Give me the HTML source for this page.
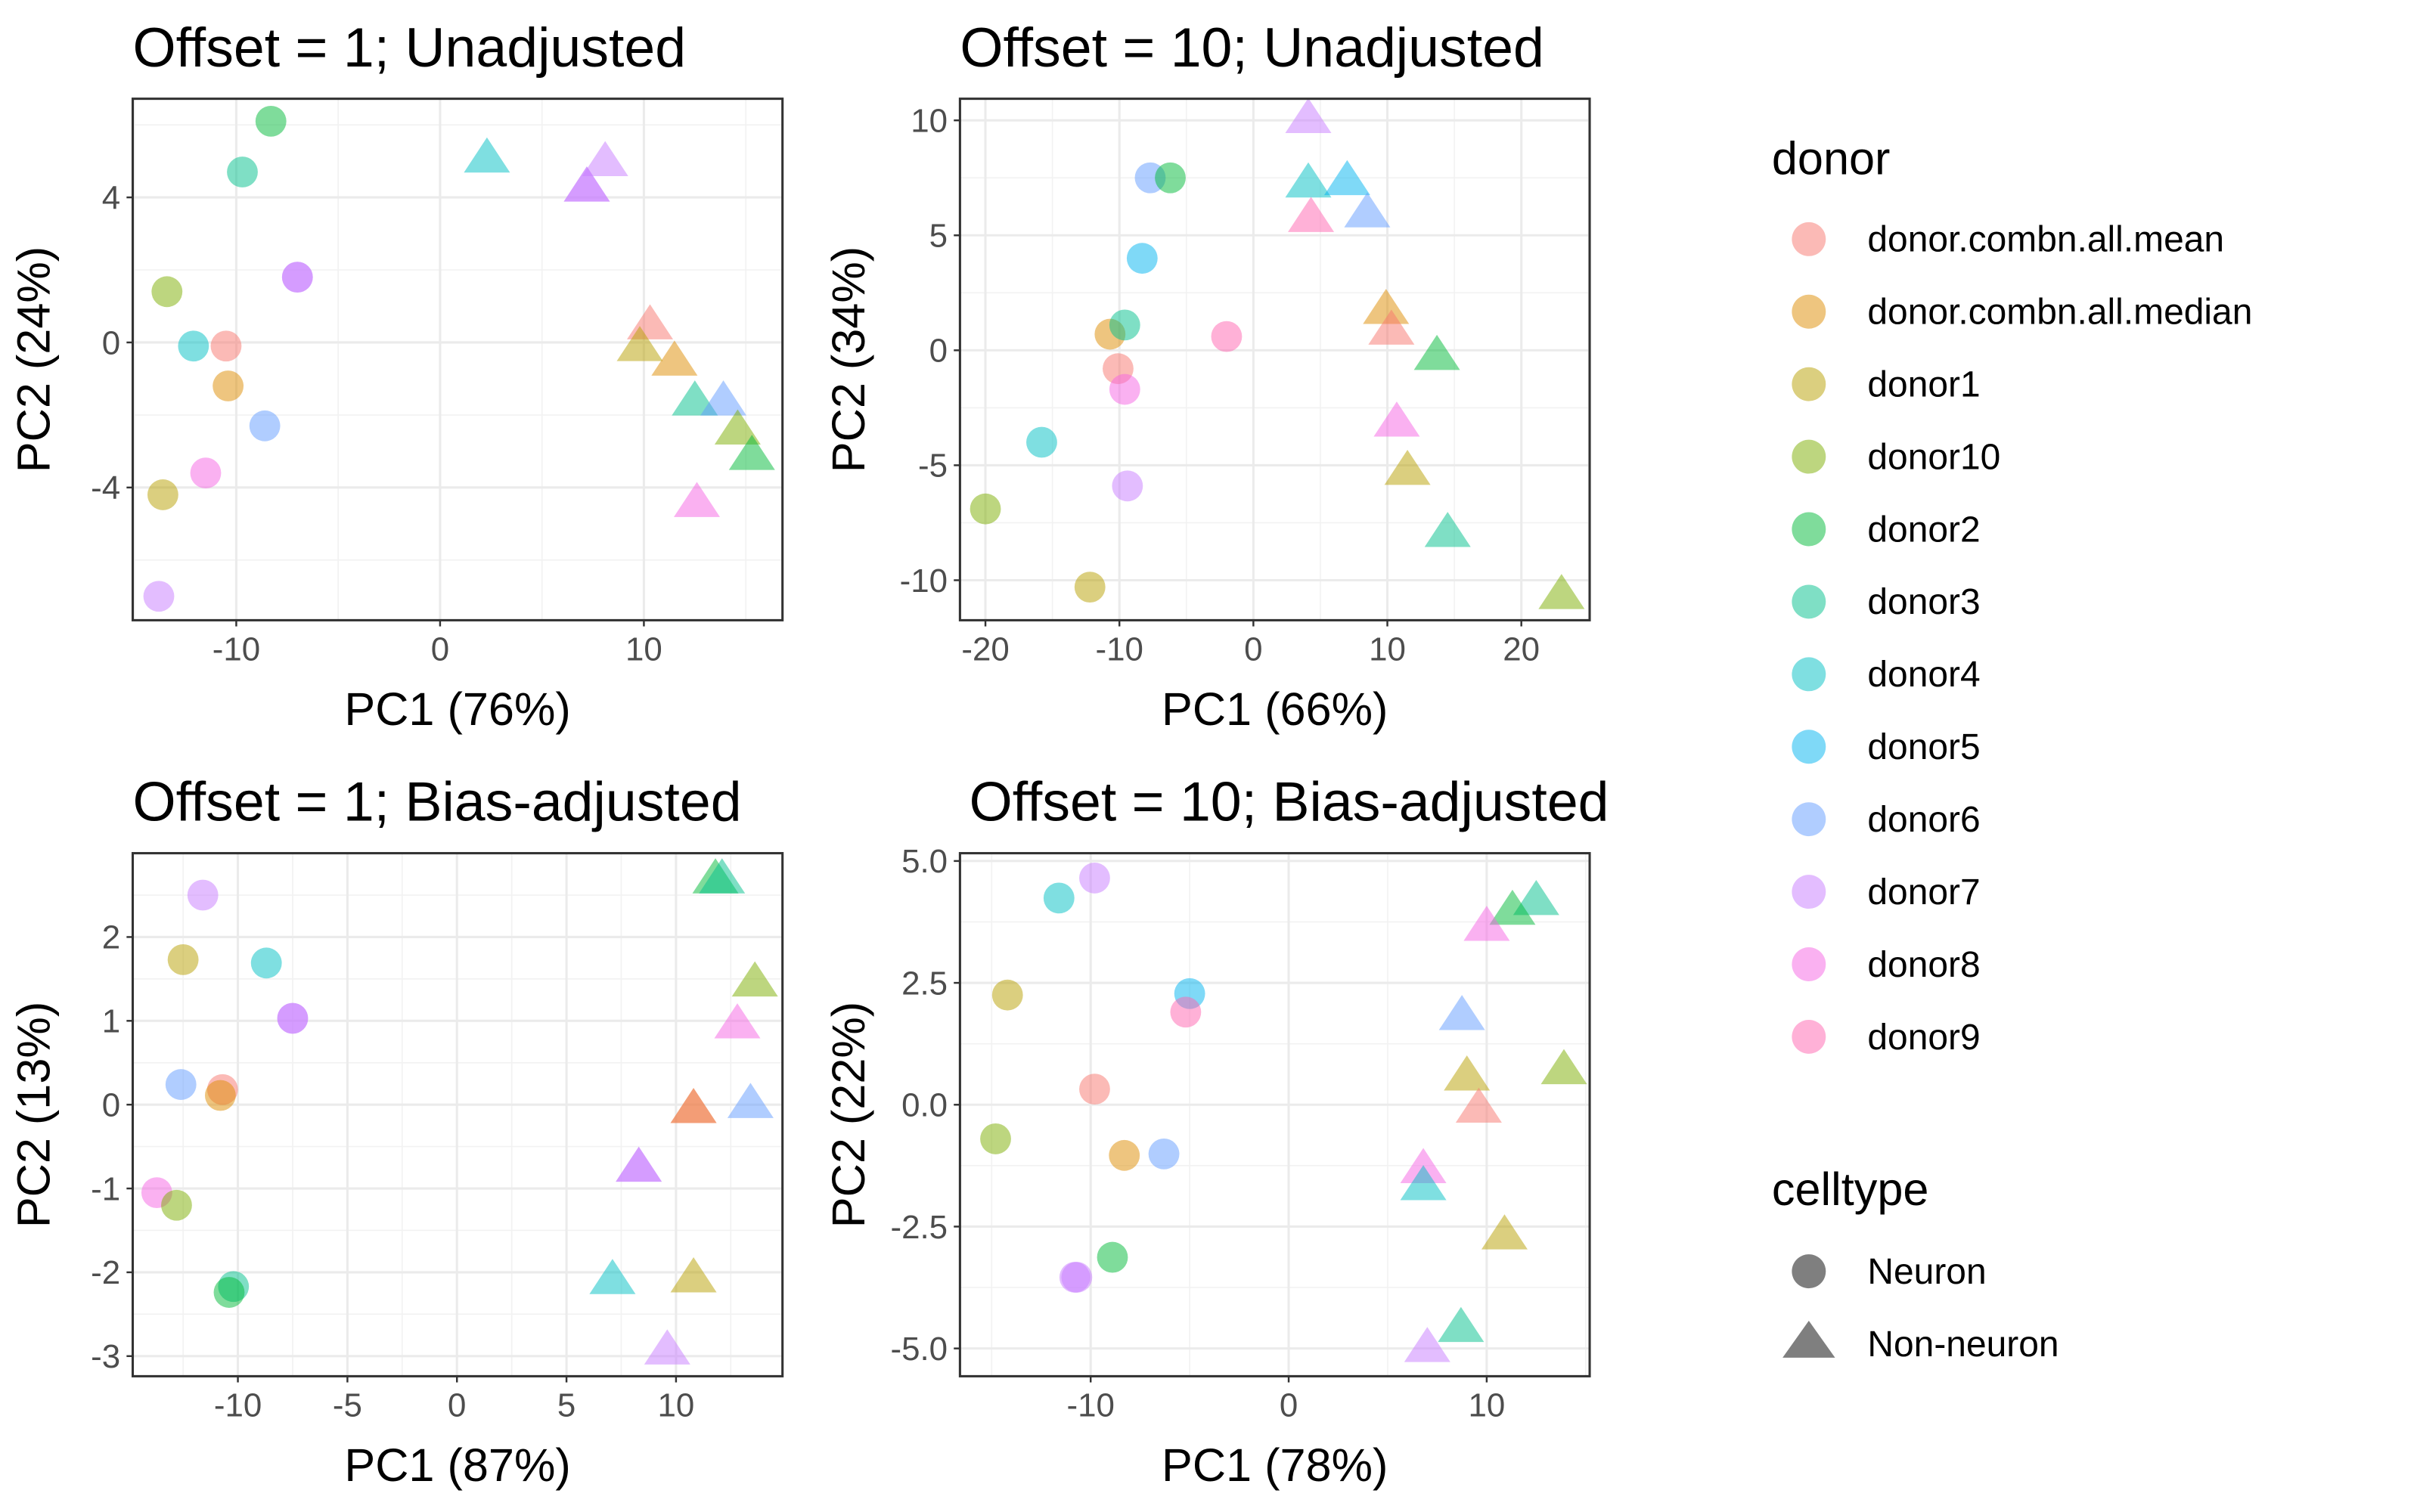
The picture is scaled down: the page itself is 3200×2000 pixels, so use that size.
<!DOCTYPE html>
<html><head><meta charset="utf-8"><style>
html,body{margin:0;padding:0;background:#fff;}
svg{display:block;font-family:"Liberation Sans",Arial,sans-serif;}
</style></head><body>
<svg id="chart" width="3200" height="2000" viewBox="0 0 1568 980" preserveAspectRatio="none" xmlns="http://www.w3.org/2000/svg"></svg>
<script>
const donors = ["donor.combn.all.mean","donor.combn.all.median","donor1","donor10","donor2","donor3","donor4","donor5","donor6","donor7","donor8","donor9"];
const colors = ["#F8766D","#DE8C00","#B79F00","#7CAE00","#00BA38","#00C08B","#00BFC4","#00B4F0","#619CFF","#C77CFF","#F564E3","#FF64B0"];
const panelTitles = ["Offset = 1; Unadjusted","Offset = 10; Unadjusted","Offset = 1; Bias-adjusted","Offset = 10; Bias-adjusted"];
const xLabels = ["PC1 (76%)","PC1 (66%)","PC1 (87%)","PC1 (78%)"];
const yLabels = ["PC2 (24%)","PC2 (34%)","PC2 (13%)","PC2 (22%)"];
const xTicks = [[-10,0,10],[-20,-10,0,10,20],[-10,-5,0,5,10],[-10,0,10]];
const yTicks = [[-4,0,4],[-10,-5,0,5,10],[-3,-2,-1,0,1,2],[-5,-2.5,0,2.5,5]];
const yTickText = [["-4","0","4"],["-10","-5","0","5","10"],["-3","-2","-1","0","1","2"],["-5.0","-2.5","0.0","2.5","5.0"]];
const xDomains = [[-15.08,16.8],[-21.9,25.1],[-14.8,14.86],[-16.6,15.2]];
const yDomains = [[-7.66,6.72],[-11.74,10.94],[-3.24,3.0],[-5.57,5.16]];
// points: [donorIndex, celltype(0 neuron,1 non-neuron), pc1, pc2]
const p1 = [[4,0,-8.3,6.1],[5,0,-9.7,4.7],[3,0,-13.4,1.4],[9,0,-7.0,1.8],[9,0,-7.0,1.8],[6,0,-12.1,-0.1],[0,0,-10.5,-0.1],[1,0,-10.4,-1.2],[8,0,-8.6,-2.3],[10,0,-11.5,-3.6],[2,0,-13.6,-4.2],[9,0,-13.8,-7.0],
 [6,1,2.3,5.1],[9,1,8.1,5.0],[9,1,7.2,4.3],[9,1,7.2,4.3],[0,1,10.3,0.5],[2,1,9.8,-0.1],[1,1,11.5,-0.5],[5,1,12.5,-1.6],[8,1,13.9,-1.6],[3,1,14.6,-2.4],[4,1,15.3,-3.1],[10,1,12.6,-4.4]];
const p2 = [[8,0,-7.7,7.5],[4,0,-6.2,7.5],[7,0,-8.3,4.0],[1,0,-10.7,0.7],[5,0,-9.6,1.1],[0,0,-10.1,-0.8],[10,0,-9.6,-1.7],[11,0,-2.0,0.6],[6,0,-15.8,-4.0],[9,0,-9.4,-5.9],[3,0,-20.0,-6.9],[2,0,-12.2,-10.3],
 [9,1,4.1,10.1],[6,1,4.1,7.3],[7,1,7.0,7.4],[8,1,8.5,6.0],[11,1,4.3,5.8],[1,1,9.9,1.8],[0,1,10.3,0.9],[4,1,13.7,-0.2],[10,1,10.7,-3.1],[2,1,11.5,-5.2],[5,1,14.5,-7.9],[3,1,23.0,-10.6]];
const p3 = [[9,0,-11.6,2.5],[2,0,-12.5,1.73],[6,0,-8.7,1.69],[9,0,-7.5,1.03],[9,0,-7.5,1.03],[8,0,-12.6,0.24],[0,0,-10.7,0.18],[1,0,-10.8,0.11],[10,0,-13.7,-1.05],[3,0,-12.8,-1.2],[5,0,-10.2,-2.17],[4,0,-10.4,-2.24],
 [4,1,11.8,2.7],[5,1,12.1,2.7],[3,1,13.6,1.47],[10,1,12.8,0.97],[8,1,13.4,0.02],[1,1,10.8,-0.04],[0,1,10.8,-0.04],[9,1,8.3,-0.74],[9,1,8.3,-0.74],[6,1,7.1,-2.08],[2,1,10.8,-2.06],[9,1,9.6,-2.92]];
const p4 = [[9,0,-9.8,4.65],[6,0,-11.6,4.24],[2,0,-14.2,2.25],[7,0,-5.0,2.28],[11,0,-5.2,1.9],[0,0,-9.8,0.32],[3,0,-14.8,-0.7],[1,0,-8.3,-1.04],[8,0,-6.3,-1.01],[4,0,-8.9,-3.13],[9,0,-10.8,-3.54],[9,0,-10.7,-3.54],
 [5,1,12.5,4.2],[4,1,11.3,4.0],[10,1,10.0,3.67],[8,1,8.75,1.84],[3,1,13.9,0.73],[2,1,9.0,0.6],[0,1,9.6,-0.06],[10,1,6.8,-1.3],[6,1,6.8,-1.65],[2,1,10.9,-2.66],[5,1,8.7,-4.56],[9,1,7.0,-4.97]];
const pointSets = [p1,p2,p3,p4];
const boxes = [[86,64,507,402],[622,64,1030,402],[86,553,507,892],[622,553,1030,892]];

const NS="http://www.w3.org/2000/svg";
const svg=document.getElementById('chart');
function mk(tag,attrs,parent){const e=document.createElementNS(NS,tag);for(const k in attrs)e.setAttribute(k,attrs[k]);(parent||svg).appendChild(e);return e;}

for(let p=0;p<4;p++){
  const [x0,y0,x1,y1]=boxes[p];
  const g=mk('g',{});
  
  
  const xd=xDomains[p], yd=yDomains[p];
  const sx=v=>x0+(v-xd[0])/(xd[1]-xd[0])*(x1-x0);
  const sy=v=>y1-(v-yd[0])/(yd[1]-yd[0])*(y1-y0);
  const xt=xTicks[p], yt=yTicks[p];
  const xs=xt[1]-xt[0], ys=yt[1]-yt[0];
  for(let v=xt[0]-xs/2; v<=xd[1]; v+=xs){ if(v<xd[0])continue; const l=mk('line',{x1:sx(v),x2:sx(v),y1:y0,y2:y1,stroke:'#f2f2f2','stroke-width':0.8},g);  }
  for(let v=yt[0]-ys/2; v<=yd[1]; v+=ys){ if(v<yd[0])continue; const l=mk('line',{x1:x0,x2:x1,y1:sy(v),y2:sy(v),stroke:'#f2f2f2','stroke-width':0.8},g);  }
  xt.forEach(v=>{const l=mk('line',{x1:sx(v),x2:sx(v),y1:y0,y2:y1,stroke:'#ebebeb','stroke-width':1.5},g);  
    const tk=mk('line',{x1:sx(v),x2:sx(v),y1:y1,y2:y1+4,stroke:'#333','stroke-width':1.2},g);  
    const t=mk('text',{x:sx(v),y:y1+26,'text-anchor':'middle','font-size':21.5,fill:'#4d4d4d'},g); t.textContent=String(v);  });
  yt.forEach((v,i)=>{const l=mk('line',{x1:x0,x2:x1,y1:sy(v),y2:sy(v),stroke:'#ebebeb','stroke-width':1.5},g);  
    const tk=mk('line',{x1:x0-4,x2:x0,y1:sy(v),y2:sy(v),stroke:'#333','stroke-width':1.2},g);  
    const t=mk('text',{x:x0-8,y:sy(v)+7.5,'text-anchor':'end','font-size':21.5,fill:'#4d4d4d'},g); t.textContent=yTickText[p][i];  });
  pointSets[p].forEach(d=>{
    const cx=sx(d[2]), cy=sy(d[3]), c=colors[d[0]];
    let m;
    if(d[1]===0){ m=mk('circle',{cx:cx,cy:cy,r:10,fill:c,'fill-opacity':0.5},g);  }
    else { const h=13; m=mk('polygon',{points:`${cx},${cy-h} ${cx-h*1.15},${cy+h*0.75} ${cx+h*1.15},${cy+h*0.75}`,fill:c,'fill-opacity':0.5},g);  }
    
  });
  const b=mk('rect',{x:x0,y:y0,width:x1-x0,height:y1-y0,fill:'none',stroke:'#333','stroke-width':1.5},g);  
  const tt=mk('text',{x:p===3?628:x0,y:y0-21,'font-size':36,fill:'#000'},g); tt.textContent=panelTitles[p];  
  const xl=mk('text',{x:(x0+x1)/2,y:y1+68,'text-anchor':'middle','font-size':30,fill:'#000'},g); xl.textContent=xLabels[p];  
  const xpos=p%2===0?32:560;
  const yl=mk('text',{x:xpos,y:(y0+y1)/2,'text-anchor':'middle','font-size':30,fill:'#000',transform:`rotate(-90 ${xpos} ${(y0+y1)/2})`},g); yl.textContent=yLabels[p];  
}
const lg=mk('g',{});


const lt=mk('text',{x:1148,y:113,'font-size':30,fill:'#000'},lg); lt.textContent='donor';  
donors.forEach((d,i)=>{
  const y=155+47*i;
  const c=mk('circle',{cx:1172,cy:y,r:11,fill:colors[i],'fill-opacity':0.5},lg);  
  const t=mk('text',{x:1210,y:y+8,'font-size':23.5,fill:'#000'},lg); t.textContent=d;  
});
const lt2=mk('text',{x:1148,y:781,'font-size':30,fill:'#000'},lg); lt2.textContent='celltype';  
const nc=mk('circle',{cx:1172,cy:824,r:11,fill:'#000','fill-opacity':0.5},lg);  
const nt=mk('text',{x:1210,y:832,'font-size':23.5,fill:'#000'},lg); nt.textContent='Neuron';  
const tp=mk('polygon',{points:'1172,856 1155,880 1189,880',fill:'#000','fill-opacity':0.5},lg);  
const tt2=mk('text',{x:1210,y:879,'font-size':23.5,fill:'#000'},lg); tt2.textContent='Non-neuron';  
</script>
</body></html>
